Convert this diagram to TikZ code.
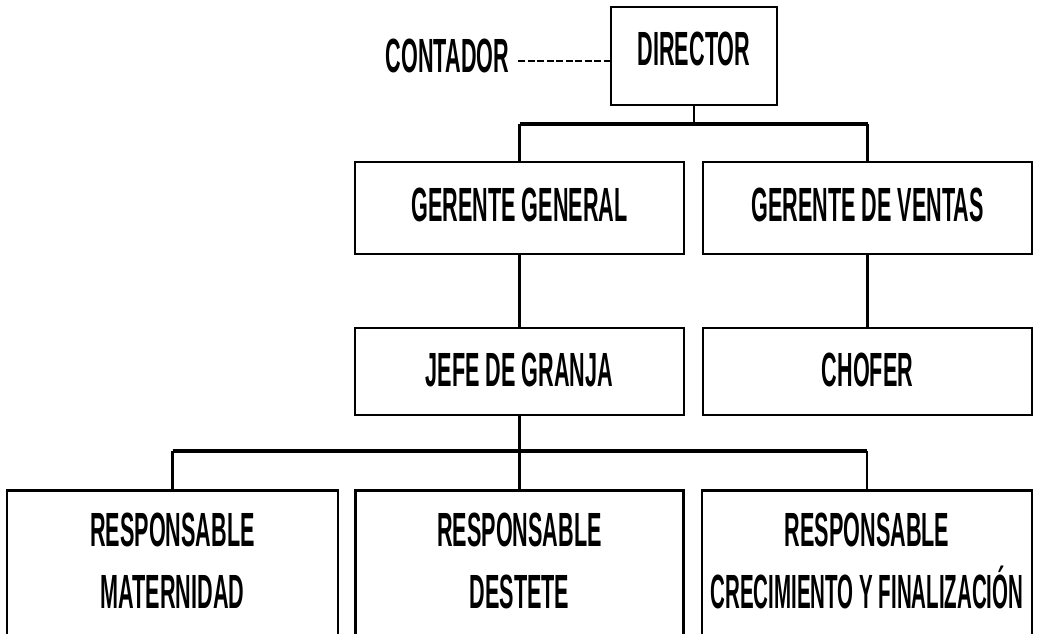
\documentclass[tikz,border=0pt]{standalone}
\usepackage{fontspec}
\newfontfamily\narrowfont[FakeStretch=0.45]{Liberation Sans Bold}
\newfontfamily\narrowerfont[FakeStretch=0.427]{Liberation Sans Bold}
\tikzset{
  orgbox/.style={draw, line width=2.6pt, inner sep=0pt, align=center,
    font=\narrowfont\fontsize{48}{62}\selectfont, text height=34pt},
  framebox/.style={draw, line width=2.6pt, inner sep=0pt, anchor=north, minimum height=170pt},
  plaintext/.style={inner sep=0pt, align=center,
    font=\narrowfont\fontsize{48}{62}\selectfont},
  link/.style={line width=2.2pt},
  bus/.style={line width=3.2pt},
  dashlink/.style={line width=2.8pt, dash pattern=on 7pt off 2.5pt},
}
\begin{document}
\begin{tikzpicture}[x=1pt,y=-1pt]
\useasboundingbox (0,0) rectangle (1041,633);
\clip (0,0) rectangle (1041,633);
% top level
\node[orgbox, minimum width=166pt, minimum height=98pt, text depth=15pt] (dir) at (694,56) {DIRECTOR};
\node[plaintext, text height=34pt, text depth=0pt] (cont) at (447.5,55.5) {CONTADOR};
% second level
\node[orgbox, minimum width=329pt, minimum height=92pt, text depth=7pt] (gg) at (519.5,208) {GERENTE GENERAL};
\node[orgbox, minimum width=329pt, minimum height=92pt, text depth=7pt] (gv) at (867.5,208) {GERENTE DE VENTAS};
% third level
\node[orgbox, minimum width=329pt, minimum height=87pt, text depth=4pt] (jg) at (519.5,371.5) {JEFE DE GRANJA};
\node[orgbox, minimum width=329pt, minimum height=87pt, text depth=4pt] (ch) at (867.5,371.5) {CHOFER};
% bottom level (cut off by the lower edge)
\node[framebox, minimum width=331pt] (rm) at (172.5,489) {};
\node[framebox, minimum width=328pt] (rd) at (519.5,489) {};
\node[framebox, minimum width=330pt] (rc) at (867,489) {};
\node[plaintext] (rmt) at (172.5,561) {RESPONSABLE\\MATERNIDAD};
\node[plaintext] (rdt) at (519.5,561) {RESPONSABLE\\DESTETE};
\node[plaintext] (rct) at (867,561) {RESPONSABLE\\\narrowerfont CRECIMIENTO Y FINALIZACIÓN};
% connectors
\draw[dashlink] ([xshift=9pt,yshift=-5.5pt]cont.east) -- ([yshift=-5pt]dir.west);
\coordinate (b1) at (694,124);
\draw[link] (dir.south) -- (b1);
\draw[bus] (gg.north |- b1) -- (gv.north |- b1);
\draw[link] (gg.north |- b1) -- (gg.north);
\draw[link] (gv.north |- b1) -- (gv.north);
\draw[link] (gg.south) -- (jg.north);
\draw[link] (gv.south) -- (ch.north);
\coordinate (b2) at (519.5,451);
\draw[link] (jg.south) -- (b2);
\draw[bus] (rm.north |- b2) -- (rc.north |- b2);
\draw[link] (rm.north |- b2) -- (rm.north);
\draw[link] (rd.north |- b2) -- (rd.north);
\draw[link] (rc.north |- b2) -- (rc.north);
\end{tikzpicture}
\end{document}
